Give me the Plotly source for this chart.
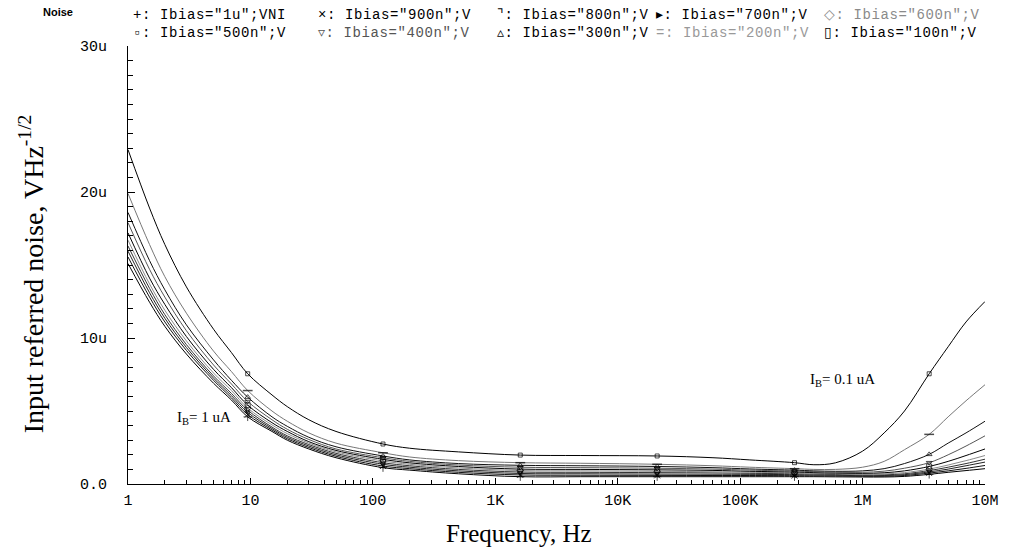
import plotly.graph_objects as go

# ---------------- data ----------------
FREQ = [1, 1.5, 2, 3, 5, 7, 9.5, 15, 20, 30, 50, 121, 200, 500, 1600, 5000, 21000,
        60000, 1.2e5, 2.78e5, 4e5, 6e5, 1e6, 1.5e6, 2.2e6, 3.5e6, 5e6, 7e6, 1e7]
MARKER_FREQS = [9.5, 121, 1600, 21000, 2.78e5, 3.5e6]

# input referred noise, in uV/sqrt(Hz)
N_100n = [22.9, 18.9, 16.4, 13.5, 10.6, 9.0, 7.55, 6.1, 5.3, 4.4, 3.6, 2.74, 2.45, 2.2, 1.98, 1.95, 1.92,
          1.8, 1.65, 1.46, 1.32, 1.45, 2.25, 3.5, 5.0, 7.55, 9.4, 11.1, 12.5]
N_200n = [19.9, 16.4, 14.2, 11.7, 9.1, 7.7, 6.4, 5.0, 4.3, 3.5, 2.8, 2.14, 1.85, 1.6, 1.46, 1.42, 1.35,
          1.25, 1.15, 1.05, 1.0, 1.0, 1.15, 1.55, 2.35, 3.4, 4.6, 5.7, 6.8]
N_300n = [18.6, 15.3, 13.3, 10.9, 8.5, 7.1, 5.95, 4.6, 3.95, 3.2, 2.55, 1.92, 1.65, 1.4, 1.28, 1.25, 1.2,
          1.12, 1.03, 0.95, 0.9, 0.87, 0.9, 1.05, 1.4, 2.03, 2.8, 3.5, 4.3]
N_400n = [17.9, 14.7, 12.8, 10.5, 8.15, 6.85, 5.65, 4.4, 3.75, 3.05, 2.4, 1.8, 1.55, 1.3, 1.15, 1.12, 1.08,
          1.02, 0.95, 0.88, 0.84, 0.8, 0.8, 0.88, 1.08, 1.46, 2.0, 2.6, 3.3]
N_500n = [17.2, 14.1, 12.3, 10.1, 7.85, 6.6, 5.4, 4.2, 3.6, 2.9, 2.3, 1.69, 1.45, 1.2, 1.02, 1.0, 0.97,
          0.93, 0.87, 0.82, 0.78, 0.75, 0.73, 0.77, 0.9, 1.2, 1.55, 1.95, 2.4]
N_600n = [16.7, 13.7, 11.9, 9.8, 7.6, 6.4, 5.2, 4.05, 3.45, 2.8, 2.2, 1.58, 1.35, 1.1, 0.92, 0.9, 0.87,
          0.84, 0.8, 0.76, 0.73, 0.7, 0.67, 0.69, 0.78, 1.02, 1.3, 1.6, 1.95]
N_700n = [16.3, 13.4, 11.6, 9.55, 7.4, 6.2, 5.05, 3.9, 3.3, 2.7, 2.1, 1.46, 1.25, 1.0, 0.82, 0.8, 0.78,
          0.76, 0.73, 0.7, 0.68, 0.65, 0.62, 0.63, 0.7, 0.92, 1.15, 1.4, 1.7]
N_800n = [15.95, 13.1, 11.35, 9.35, 7.25, 6.05, 4.9, 3.8, 3.2, 2.6, 2.0, 1.35, 1.15, 0.9, 0.72, 0.7, 0.68,
          0.67, 0.66, 0.64, 0.62, 0.6, 0.57, 0.58, 0.64, 0.83, 1.02, 1.25, 1.5]
N_900n = [15.55, 12.8, 11.1, 9.15, 7.1, 5.9, 4.75, 3.7, 3.1, 2.5, 1.9, 1.23, 1.05, 0.8, 0.62, 0.6, 0.59,
          0.58, 0.58, 0.57, 0.56, 0.55, 0.53, 0.53, 0.58, 0.75, 0.9, 1.07, 1.27]
N_1u = [15.1, 12.45, 10.8, 8.9, 6.9, 5.75, 4.6, 3.6, 3.0, 2.4, 1.8, 1.12, 0.95, 0.7, 0.5, 0.5, 0.5,
        0.5, 0.5, 0.5, 0.5, 0.49, 0.48, 0.48, 0.52, 0.66, 0.8, 0.92, 1.05]

SERIES_NAMES = ['Ibias="1u";VNI', 'Ibias="900n";V', 'Ibias="800n";V', 'Ibias="700n";V', 'Ibias="600n";V',
                'Ibias="500n";V', 'Ibias="400n";V', 'Ibias="300n";V', 'Ibias="200n";V', 'Ibias="100n";V']
SERIES_VALUES = [N_1u, N_900n, N_800n, N_700n, N_600n, N_500n, N_400n, N_300n, N_200n, N_100n]
LEGEND_GLYPHS = ['+', '×', '⌝', '▸', '◇', '▫', '▿', '▵', '=', '▯']

X_TICK_VALS = [1, 10, 100, 1e3, 1e4, 1e5, 1e6, 1e7]
X_TICK_TEXT = ['1', '10', '100', '1K', '10K', '100K', '1M', '10M']
Y_TICK_VALS = [0, 10, 20, 30]
Y_TICK_TEXT = ['0.0', '10u', '20u', '30u']

# ---------------- styles ----------------
COLORS = ['#000000', '#111111', '#222222', '#333333', '#8a8a8a',
          '#000000', '#555555', '#111111', '#777777', '#000000']
LEGEND_COLORS = ['#000000', '#000000', '#000000', '#000000', '#8a8a8a',
                 '#000000', '#555555', '#000000', '#999999', '#000000']
SYMBOLS = ['cross-thin-open', 'x-thin-open', 'triangle-ne-open', 'triangle-right-open', 'diamond-open',
           'square-open', 'triangle-down-open', 'triangle-up-open', 'line-ew-open', 'square-open']
MSIZES = [6, 6, 5, 5, 5, 5, 5, 5, 7, 4]

W, H = 1011, 550
L, R, T, B = 128, 988, 46, 484


def px(x):
    return (x - L) / (R - L)


def py(y):
    return (B - y) / (B - T)


fig = go.Figure()
for name, vals, col, sym, ms in zip(SERIES_NAMES, SERIES_VALUES, COLORS, SYMBOLS, MSIZES):
    sizes = [ms if f in MARKER_FREQS else 0 for f in FREQ]
    fig.add_trace(go.Scatter(
        x=FREQ, y=vals, name=name, mode='lines+markers',
        line=dict(color=col, width=1, shape='spline', smoothing=1.0),
        marker=dict(symbol=sym, size=sizes, color='#000000',
                    line=dict(color='#000000', width=1.5 if sym == 'line-ew-open' else 1)),
        showlegend=False, hoverinfo='skip'))

tickfont = dict(family='Liberation Mono', size=15, color='#000000')
minor_x = [k * 10 ** d for d in range(7) for k in range(2, 10)]

fig.update_xaxes(type='log', range=[0, 7], tickmode='array', tickvals=X_TICK_VALS, ticktext=X_TICK_TEXT,
                 ticks='inside', ticklen=6, tickcolor='#000', tickwidth=1,
                 minor=dict(tickmode='array', tickvals=minor_x, ticks='inside', ticklen=4,
                            tickcolor='#000', tickwidth=1, showgrid=False),
                 showline=True, linecolor='#000', linewidth=1, showgrid=False, zeroline=False,
                 tickfont=tickfont, ticklabelstandoff=2)
fig.update_yaxes(range=[0, 30], tickmode='array', tickvals=Y_TICK_VALS, ticktext=Y_TICK_TEXT,
                 ticks='inside', ticklen=7, tickcolor='#000', tickwidth=1,
                 minor=dict(dtick=1, ticks='inside', ticklen=5, tickcolor='#000', tickwidth=1, showgrid=False),
                 showline=True, linecolor='#000', linewidth=1, showgrid=False, zeroline=False,
                 tickfont=tickfont, ticklabelstandoff=17)

ann = []
# legend rows
cols_px = [131, 317, 496, 656, 824]
for i, (glyph, name, lc) in enumerate(zip(LEGEND_GLYPHS, SERIES_NAMES, LEGEND_COLORS)):
    row, c = divmod(i, 5)
    ann.append(dict(xref='paper', yref='paper', x=px(cols_px[c]), y=py(15 + 18 * row),
                    xanchor='left', yanchor='middle', showarrow=False,
                    text=f'<span style="letter-spacing:0.6px">{glyph}: {name}</span>',
                    font=dict(family='Liberation Mono', size=14, color=lc)))
ann.append(dict(xref='paper', yref='paper', x=px(58), y=py(12), xanchor='center', yanchor='middle',
                showarrow=False, text='<b>Noise</b>', font=dict(family='Liberation Sans', size=11, color='#000')))
ann.append(dict(xref='paper', yref='paper', x=px(31), y=py(274), xanchor='center', yanchor='middle',
                showarrow=False, textangle=-90, text='Input referred noise, VHz<sup>-1/2</sup>',
                font=dict(family='Liberation Serif', size=28, color='#000')))
ann.append(dict(xref='paper', yref='paper', x=px(520), y=py(533), xanchor='center', yanchor='middle',
                showarrow=False, text='Frequency, Hz',
                font=dict(family='Liberation Serif', size=25, color='#000')))
ann.append(dict(xref='paper', yref='paper', x=px(175), y=py(418), xanchor='left', yanchor='middle',
                showarrow=False, text='I<sub>B</sub>= 1 uA',
                font=dict(family='Liberation Serif', size=15, color='#000')))
ann.append(dict(xref='paper', yref='paper', x=px(810), y=py(380), xanchor='left', yanchor='middle',
                showarrow=False, text='I<sub>B</sub>= 0.1 uA',
                font=dict(family='Liberation Serif', size=15, color='#000')))

fig.update_layout(width=W, height=H, margin=dict(l=L, r=W - R, t=T, b=H - B),
                  paper_bgcolor='#ffffff', plot_bgcolor='#ffffff', annotations=ann,
                  showlegend=False)

fig.write_html('out.html', config={'displayModeBar': False})
